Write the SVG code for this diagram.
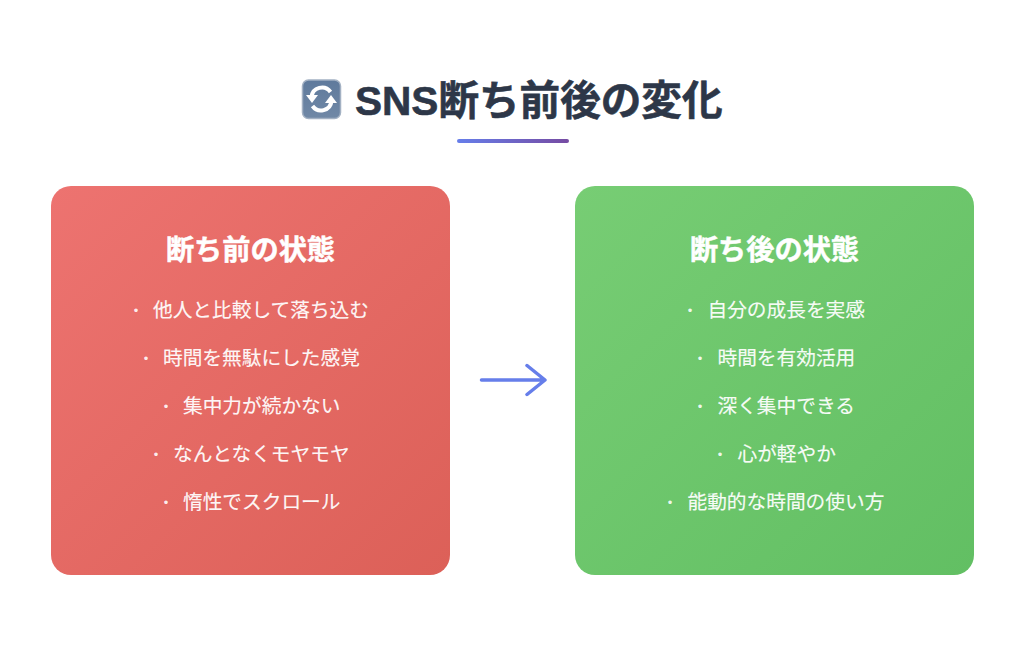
<svg xmlns="http://www.w3.org/2000/svg" width="1024" height="669" viewBox="0 0 1024 669">
<style>
text{font-family:"Liberation Sans","Noto Sans CJK JP",sans-serif;fill:#fff}
.t{font-size:40.6px;font-weight:700;fill:#2d3748;stroke:#2d3748;stroke-width:.6px}
.h{font-size:28.2px;font-weight:700;text-anchor:middle;stroke:#fff;stroke-width:.5px}
.i{font-size:19.7px;fill-opacity:.95;stroke:#fff;stroke-width:.15px}
.b{font-size:13px;text-anchor:middle;fill-opacity:.9}
</style>
<defs>
<linearGradient id="r" x1="0" y1="0" x2="1" y2="1"><stop offset="0" stop-color="#ed7370"/><stop offset="1" stop-color="#dc6058"/></linearGradient>
<linearGradient id="g" x1="0" y1="0" x2="1" y2="1"><stop offset="0" stop-color="#77cd74"/><stop offset="1" stop-color="#62bf63"/></linearGradient>
<linearGradient id="u" x1="0" y1="0" x2="1" y2="0"><stop offset="0" stop-color="#667eea"/><stop offset="1" stop-color="#764ba2"/></linearGradient>
<linearGradient id="e" x1="0" y1="0" x2="0" y2="1"><stop offset="0" stop-color="#5f7a9c"/><stop offset="1" stop-color="#7088a6"/></linearGradient>
</defs>
<g id="title">
<rect x="302.500" y="80" width="38" height="38.500" rx="6" fill="url(#e)" stroke="#a3b1c3" stroke-width="1.500"/>
<g fill="none" stroke="#fff" stroke-width="4">
<path d="M311.500 97a10.500 10.500 0 0 1 19-5"/><path d="M331.500 101a10.500 10.500 0 0 1-19 5"/>
</g>
<path d="M306 95h12l-6 8zM337 103h-12l6-8z" fill="#fff"/>
<text class="t" x="355" y="114.500">SNS断ち前後の変化</text>
<rect x="457" y="139" width="112" height="4" rx="2" fill="url(#u)"/>
</g>
<g id="before">
<rect x="51" y="186" width="399" height="389" rx="20" fill="url(#r)"/>
<text class="h" x="250.500" y="259.500">断ち前の状態</text>
<text class="b" x="136" y="315">•</text><text class="i" x="153" y="317">他人と比較して落ち込む</text>
<text class="b" x="146" y="363">•</text><text class="i" x="163" y="365">時間を無駄にした感覚</text>
<text class="b" x="166" y="411">•</text><text class="i" x="183" y="413">集中力が続かない</text>
<text class="b" x="156" y="459">•</text><text class="i" x="173" y="461">なんとなくモヤモヤ</text>
<text class="b" x="166" y="507">•</text><text class="i" x="183" y="509">惰性でスクロール</text>
</g>
<g id="after">
<rect x="575" y="186" width="399" height="389" rx="20" fill="url(#g)"/>
<text class="h" x="774.500" y="259.500">断ち後の状態</text>
<text class="b" x="690" y="315">•</text><text class="i" x="707.500" y="317">自分の成長を実感</text>
<text class="b" x="700" y="363">•</text><text class="i" x="717.500" y="365">時間を有効活用</text>
<text class="b" x="700" y="411">•</text><text class="i" x="717.500" y="413">深く集中できる</text>
<text class="b" x="720" y="459">•</text><text class="i" x="737.500" y="461">心が軽やか</text>
<text class="b" x="670" y="507">•</text><text class="i" x="687.500" y="509">能動的な時間の使い方</text>
</g>
<g id="connectors" fill="none" stroke="#667eea" stroke-width="3.500" stroke-linecap="round" stroke-linejoin="round">
<path d="M481.500 380h63M527 365.500l18 14.500-18 14.500"/>
</g>
</svg>
